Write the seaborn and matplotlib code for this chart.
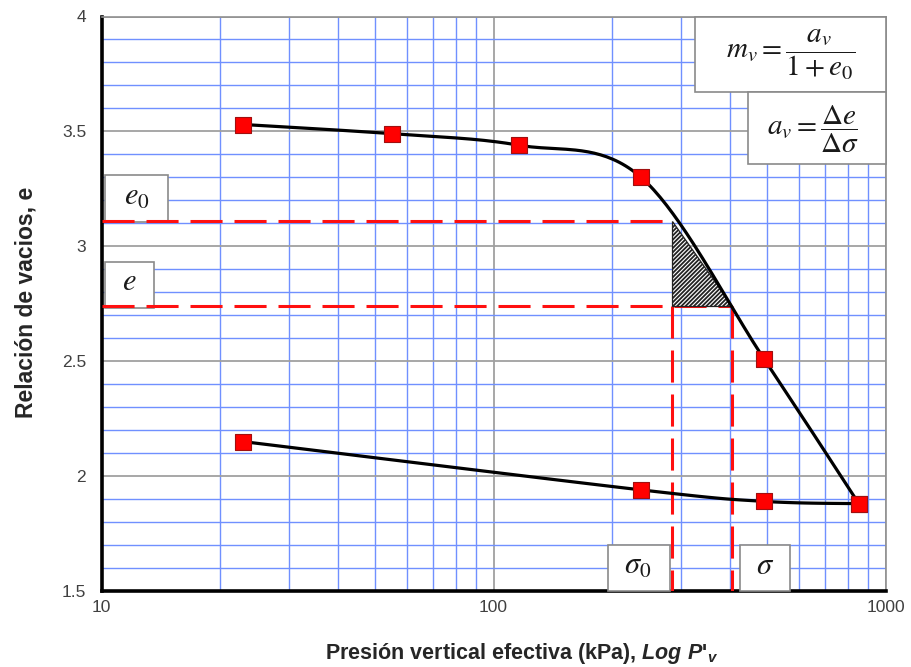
import numpy as np
import matplotlib
matplotlib.use("Agg")
import matplotlib.pyplot as plt
import seaborn as sns
from matplotlib.patches import Rectangle, Polygon
from matplotlib.ticker import FixedLocator, MultipleLocator, NullFormatter

# ---- data ----
load_p = [23, 55, 116, 238, 490, 855]
load_e = [3.53, 3.49, 3.44, 3.30, 2.51, 1.88]
unload_p = [23, 238, 490, 855]
unload_e = [2.15, 1.94, 1.89, 1.88]
sigma0_p, sigma_p = 285, 407
e0_val, e_val = 3.11, 2.74
x_ticks = [10, 100, 1000]
x_ticklabels = ["10", "100", "1000"]
y_ticks = [1.5, 2, 2.5, 3, 3.5, 4]
y_ticklabels = ["1.5", "2", "2.5", "3", "3.5", "4"]

sns.set_theme(style="white")
plt.rcParams['font.family'] = ['Liberation Sans', 'DejaVu Sans']
plt.rcParams['mathtext.fontset'] = 'custom'
plt.rcParams['mathtext.it'] = 'Liberation Sans:italic:bold'
plt.rcParams['mathtext.rm'] = 'Liberation Sans:bold'
plt.rcParams['hatch.linewidth'] = 1.3


def smooth(px, py, n=40):
    """Excel-like smoothed line (Bezier through the points, screen space)."""
    u = np.log10(np.asarray(px, float)) * 392.0
    v = np.asarray(py, float) * 229.8
    pts = np.column_stack([u, v])
    P = np.vstack([pts[0], pts, pts[-1]])
    out = []
    t = np.linspace(0, 1, n)[:, None]
    for i in range(1, len(P) - 2):
        p0, p1, p2, p3 = P[i - 1], P[i], P[i + 1], P[i + 2]
        c1 = p1 + (p2 - p0) / 6.0
        c2 = p2 - (p3 - p1) / 6.0
        seg = (1 - t) ** 3 * p1 + 3 * (1 - t) ** 2 * t * c1 + 3 * (1 - t) * t ** 2 * c2 + t ** 3 * p2
        out.append(seg if i == 1 else seg[1:])
    arr = np.vstack(out)
    return 10 ** (arr[:, 0] / 392.0), arr[:, 1] / 229.8


fig = plt.figure(figsize=(9.11, 6.67), dpi=100)
fig.patch.set_facecolor('white')
L, R, T, B = 101.5, 885.5, 16.5, 591.0
W, H = 911.0, 667.0
ax = fig.add_axes([L / W, 1 - B / H, (R - L) / W, (B - T) / H])
ax.set_facecolor('white')

ax.set_xscale('log')
ax.set_xlim(10, 1000)
ax.set_ylim(1.5, 4)

# grid
ax.xaxis.set_major_locator(FixedLocator(x_ticks))
ax.xaxis.set_minor_locator(FixedLocator([m * d for d in (10, 100) for m in range(2, 10)]))
ax.xaxis.set_minor_formatter(NullFormatter())
ax.yaxis.set_major_locator(FixedLocator(y_ticks))
ax.yaxis.set_minor_locator(MultipleLocator(0.1))
ax.grid(which='minor', color='#7090ff', lw=1.0, zorder=0)
ax.grid(which='major', color='#a0a0a0', lw=1.3, zorder=0)
ax.set_axisbelow(True)

ax.set_xticks(x_ticks)
ax.set_xticklabels(x_ticklabels)
ax.set_yticks(y_ticks)
ax.set_yticklabels(y_ticklabels)
ax.tick_params(which='minor', length=0)
ax.tick_params(axis='both', which='major', direction='out', length=4, width=2.2,
               color='black', labelsize=12.5, labelcolor='#404040')
ax.tick_params(axis='y', pad=7)
ax.tick_params(axis='x', pad=2.5)

for side in ('left', 'bottom'):
    ax.spines[side].set_color('black')
    ax.spines[side].set_linewidth(2.6)
for side in ('top', 'right'):
    ax.spines[side].set_color('#909090')
    ax.spines[side].set_linewidth(1.2)

# boxes (axes fraction)
def fx(px):
    return (px - L) / (R - L)

def fy(py):
    return (B - py) / (B - T)

def box(x0, y0, x1, y1, txt, size, tx=None, ty=None):
    rect = Rectangle((fx(x0), fy(y1)), fx(x1) - fx(x0), fy(y0) - fy(y1),
                     transform=ax.transAxes, facecolor='white', edgecolor='#8a8a8a',
                     lw=1.2, zorder=3, clip_on=False)
    ax.add_patch(rect)
    cx = (x0 + x1) / 2 if tx is None else tx
    cy = (y0 + y1) / 2 if ty is None else ty
    ax.text(fx(cx), fy(cy), txt, transform=ax.transAxes, ha='center', va='center',
            fontsize=size, math_fontfamily='stix', color='#1a1a1a', zorder=3.5)

box(695, 16.5, 885.5, 92, r'$m_v = \dfrac{a_v}{1 + e_0}$', 21, tx=791, ty=55)
box(748, 92, 885.5, 164, r'$a_v = \dfrac{\Delta e}{\Delta\sigma}$', 21, tx=813, ty=129)
box(105, 175, 168, 222, r'$e_0$', 22, tx=137, ty=197)
box(105, 262, 154, 308, r'$e$', 22, tx=129, ty=282)
box(608, 545, 670, 591, r'$\sigma_0$', 22, tx=638, ty=566)
box(740, 545, 790, 591, r'$\sigma$', 22, tx=765, ty=566)

# red dashed guide lines
dash = dict(color='#ff1010', lw=2.2, dashes=(10.5, 3.9), zorder=4)
ax.plot([10, sigma0_p], [e0_val, e0_val], **dash)
ax.plot([10, sigma_p], [e_val, e_val], **dash)
ax.plot([sigma0_p, sigma0_p], [e_val, 1.5], **dash)
ax.plot([sigma_p, sigma_p], [e_val, 1.5], **dash)

# hatched triangle
tri = Polygon([(sigma0_p, e0_val), (sigma0_p, e_val), (sigma_p, e_val)], closed=True,
              facecolor='white', edgecolor='#222222', hatch='////////', lw=0.9, zorder=4.5)
ax.add_patch(tri)

# curves
lx, ly = smooth(load_p, load_e)
ux, uy = smooth(unload_p, unload_e)
sns.lineplot(x=lx, y=ly, sort=False, estimator=None, color='black', lw=2.3, ax=ax, zorder=5)
sns.lineplot(x=ux, y=uy, sort=False, estimator=None, color='black', lw=2.3, ax=ax, zorder=5)

# markers
sns.scatterplot(x=load_p, y=load_e, marker='s', s=120, color='#ff0000',
                edgecolor='#a01010', linewidth=0.8, ax=ax, zorder=6)
sns.scatterplot(x=unload_p, y=unload_e, marker='s', s=120, color='#ff0000',
                edgecolor='#a01010', linewidth=0.8, ax=ax, zorder=6)

ax.set_xlim(10, 1000)
ax.set_ylim(1.5, 4)

ax.set_xlabel("Presión vertical efectiva (kPa), $Log\\ P$'$_v$", fontsize=15.5,
              fontweight='bold', color='#262626')
ax.xaxis.set_label_coords((522 - L) / (R - L), (B - 641) / (B - T))
ax.set_ylabel("Relación de vacios, e", fontsize=16.5, fontweight='bold', color='#262626')
ax.yaxis.set_label_coords((38 - L) / (R - L), (B - 302) / (B - T))

fig.savefig('out.png', dpi=100, facecolor='white')
